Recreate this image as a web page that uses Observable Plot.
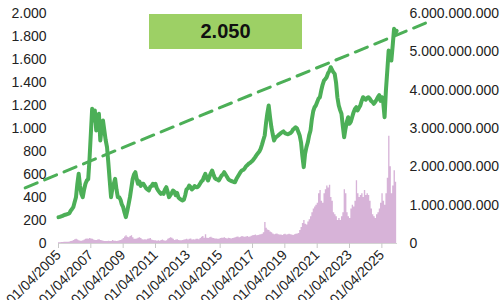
<!DOCTYPE html>
<html><head><meta charset="utf-8">
<script src="https://cdn.jsdelivr.net/npm/d3@7"></script>
<script src="https://cdn.jsdelivr.net/npm/@observablehq/plot@0.6"></script>
<style>
body{margin:0;background:#fff;}
#wrap{position:relative;width:501px;height:300px;font-family:"Liberation Sans",Arial,sans-serif;}
#badge{position:absolute;left:149px;top:14px;width:153px;height:35px;background:#9dd065;display:flex;align-items:center;justify-content:center;font-weight:bold;font-size:20px;color:#111;}
</style></head><body><div id="wrap"><div id="badge"></div></div>
<script>
// Monthly series, first month = April 2005
const startMonth = "2005-04-01";
const indexValues = [
  229,232,236,240,246,250,254,258,262,
  285,300,316,360,403,520,606,500,430,403,470,520,
  548,560,722,950,1171,1070,1157,983,1050,1128,896,1000,
  1070,983,900,838,700,548,403,480,520,562,470,403,
  403,380,340,316,270,229,280,340,403,480,560,600,
  620,560,519,540,500,520,519,500,480,470,461,490,
  500,519,505,519,480,460,445,432,440,432,470,490,
  450,403,420,440,461,450,420,440,400,390,380,374,
  380,420,470,480,504,490,470,480,500,490,490,500,
  520,540,548,580,606,570,548,580,610,635,600,570,
  560,555,548,570,590,600,620,600,580,560,550,545,
  540,535,533,560,580,600,620,635,640,650,670,680,
  693,700,710,720,735,751,770,785,800,823,860,900,
  939,1050,1130,1200,1100,1011,950,896,920,930,939,950,
  960,968,975,960,955,950,954,960,970,990,1000,1011,
  1000,970,940,880,760,664,780,838,880,940,983,1080,
  1150,1185,1200,1230,1260,1272,1330,1380,1417,1430,1446,1480,
  1500,1533,1510,1490,1475,1400,1272,1200,1160,1128,1020,924,
  1000,1060,1098,1041,1060,1100,1140,1170,1185,1157,1180,1200,
  1240,1272,1260,1250,1265,1272,1260,1240,1230,1215,1230,1250,
  1272,1290,1240,1272,1230,1098,1330,1500,1678,1640,1591,1720,
  1867,1830,1850
];
// trading volume, millions of shares
const volumeValues = [
  20,20,25,25,30,30,30,35,40,
  50,60,80,100,110,90,70,60,60,70,90,110,
  120,110,130,120,110,90,80,80,90,100,80,70,
  60,50,50,50,60,50,50,80,60,60,50,60,
  70,80,100,130,170,200,160,150,180,200,150,110,
  110,120,140,150,130,100,90,100,90,110,120,130,
  90,80,70,70,60,70,60,80,90,70,60,70,
  110,130,150,140,110,80,90,100,80,70,70,80,
  90,100,110,90,110,120,90,100,90,110,110,100,
  130,160,180,140,230,140,130,150,160,140,130,120,
  120,110,110,130,140,140,150,130,120,140,130,120,
  130,140,150,160,170,150,160,180,170,160,170,180,
  160,170,190,200,210,220,200,210,220,230,240,280,
  550,400,350,340,300,280,250,230,240,250,230,220,
  220,210,230,240,220,230,240,230,220,210,230,240,
  250,260,340,420,520,600,500,480,560,620,700,800,
  900,950,1000,1050,1300,1380,1100,1050,1300,1400,1500,1450,
  1520,1200,1100,800,750,700,600,650,600,700,800,1400,
  1300,800,700,650,900,1000,950,1100,1640,1300,1200,1250,
  1300,1200,1380,1250,1300,1250,1100,900,750,700,650,750,
  800,900,1050,1300,1100,1000,1300,1700,2800,2000,1300,1500,
  1900,1600,1300
];
const trendDates = ["2003-03-10", "2027-12-12"];
const trendValues = [484, 1916];
const xTickDates = ["2005-04-01","2007-04-01","2009-04-01","2011-04-01","2013-04-01","2015-04-01","2017-04-01","2019-04-01","2021-04-01","2023-04-01","2025-04-01"];
const leftTicks = [0,200,400,600,800,1000,1200,1400,1600,1800,2000];
const rightTicks = [0,1e9,2e9,3e9,4e9,5e9,6e9];
const badgeText = "2.050";

const volPerUnit = 6e9 / 2000; // right axis max maps to left axis max
const start = new Date(startMonth);
const months = d3.utcMonth.range(start, d3.utcMonth.offset(start, indexValues.length));
const data = months.map((date, i) => ({date, index: indexValues[i], vol: volumeValues[i] * 1e6}));
const trend = trendDates.map((d, i) => ({date: new Date(d), v: trendValues[i]}));

const loc = d3.formatLocale({decimal: ",", thousands: ".", grouping: [3], currency: ["", ""]});
const fmt = loc.format(",d");
const dfmt = d3.utcFormat("%d/%m/%Y");

const chart = Plot.plot({
  width: 501, height: 300,
  marginLeft: 58, marginRight: 104, marginTop: 13, marginBottom: 57,
  style: {fontFamily: "'Liberation Sans', Arial, sans-serif", fontSize: "14px", color: "#222", background: "transparent", overflow: "visible"},
  x: {type: "utc", domain: [new Date("2005-04-01"), new Date("2026-03-20")]},
  y: {domain: [0, 2000]},
  marks: [
    Plot.areaY(data, {x: "date", y: d => d.vol / volPerUnit, fill: "#d7b3d8", curve: "step-after"}),
    Plot.ruleY([0], {stroke: "#d4d4d4"}),
    Plot.axisX({ticks: xTickDates.map(d => new Date(d)), tickFormat: dfmt, tickRotate: -45, tickSize: 5, tickPadding: 4, stroke: "#c8c8c8", fill: "#222", label: null}),
    Plot.axisY({ticks: leftTicks, tickFormat: fmt, tickSize: 0, tickPadding: 12, label: null}),
    Plot.axisY({anchor: "right", ticks: rightTicks.map(v => v / volPerUnit), tickFormat: v => fmt(Math.round(v * volPerUnit)), tickSize: 0, tickPadding: 12, label: null}),
    Plot.line(data, {x: "date", y: "index", stroke: "#4caf57", strokeWidth: 4, strokeLinejoin: "round"}),
    Plot.line(trend, {x: "date", y: "v", stroke: "#4caf57", strokeWidth: 3, strokeDasharray: "13 8"})
  ]
});
const wrap = document.getElementById("wrap");
wrap.insertBefore(chart, wrap.firstChild);
document.getElementById("badge").textContent = badgeText;
</script>
</body></html>
